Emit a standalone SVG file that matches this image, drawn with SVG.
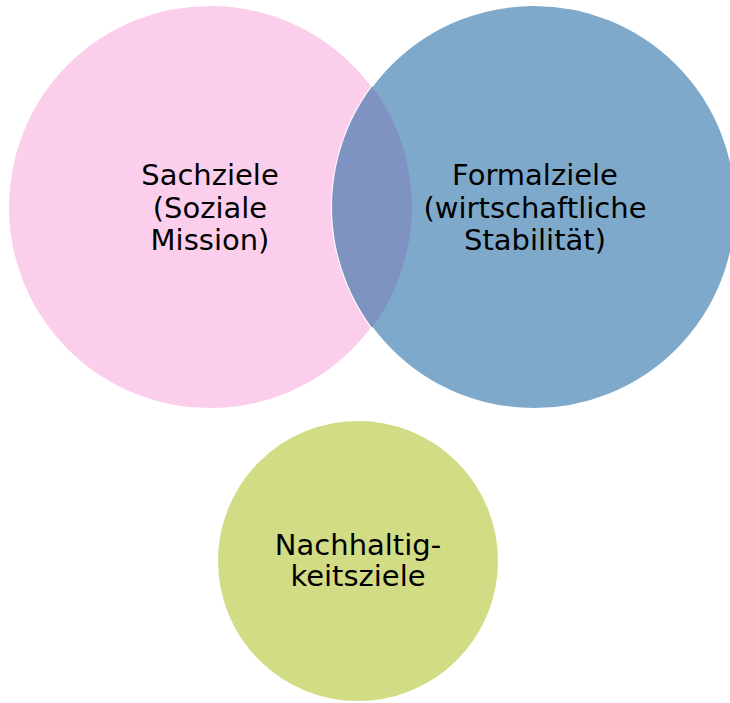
<svg xmlns="http://www.w3.org/2000/svg" width="730" height="703" viewBox="0 0 730 703">
  <style>
    .ring { stroke: #ffffff; stroke-width: 2; }
    .label { font-family: "DejaVu Sans", Verdana, sans-serif; font-size: 29px; fill: #000000; text-anchor: middle; }
  </style>
  <defs>
    <clipPath id="pinkClip">
      <circle cx="210" cy="207" r="202"/>
    </clipPath>
  </defs>
  <rect width="730" height="703" fill="#ffffff"/>

  <g id="sachziele">
    <circle class="ring" cx="210" cy="207" r="202" fill="#fbcfeb"/>
  </g>

  <g id="formalziele">
    <circle class="ring" cx="534" cy="207" r="202" fill="#7fa9cb"/>
    <!-- lens where the two upper circles overlap -->
    <circle cx="534" cy="207" r="202" fill="#7f93c3" clip-path="url(#pinkClip)"/>
  </g>

  <g id="nachhaltigkeitsziele">
    <circle class="ring" cx="358" cy="561" r="141" fill="#d2dc85"/>
  </g>

  <g id="labels">
    <text class="label" x="210" y="185">Sachziele</text>
    <text class="label" x="210" y="217.5">(Soziale</text>
    <text class="label" x="210" y="250">Mission)</text>

    <text class="label" x="535" y="185">Formalziele</text>
    <text class="label" x="535" y="217.5">(wirtschaftliche</text>
    <text class="label" x="535" y="250">Stabilität)</text>

    <text class="label" x="358" y="555">Nachhaltig-</text>
    <text class="label" x="358" y="586">keitsziele</text>
  </g>
</svg>
